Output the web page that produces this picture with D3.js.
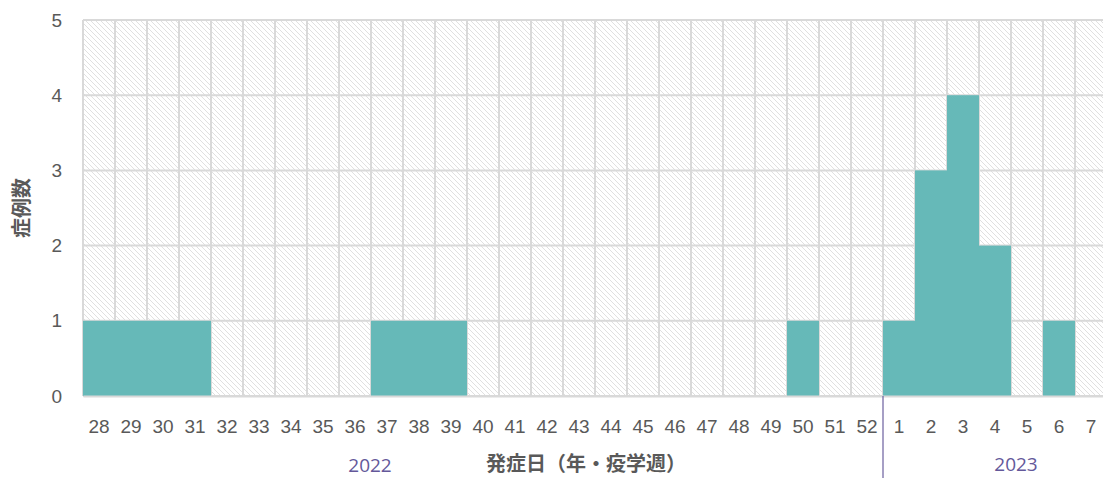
<!DOCTYPE html>
<html>
<head>
<meta charset="utf-8">
<script src="https://cdn.jsdelivr.net/npm/d3@7"></script>
<style>
  body { margin: 0; background: #fff; }
  svg { display: block; font-family: "Open Sans", "Noto Sans CJK JP", sans-serif; }
</style>
</head>
<body>
<div id="chart"></div>
<script>
// weeks of onset, 2022 wk28 .. 2023 wk7
const weeks = ['28','29','30','31','32','33','34','35','36','37','38','39','40','41','42','43','44','45','46','47','48','49','50','51','52','1','2','3','4','5','6','7'];
const years = ['2022','2022','2022','2022','2022','2022','2022','2022','2022','2022','2022','2022','2022','2022','2022','2022','2022','2022','2022','2022','2022','2022','2022','2022','2022','2023','2023','2023','2023','2023','2023','2023'];
const cases = [1,1,1,1,0,0,0,0,0,1,1,1,0,0,0,0,0,0,0,0,0,0,1,0,0,1,3,4,2,0,1,0];
const yTicks = [0,1,2,3,4,5];

const width = 1103, height = 478;
const margin = { top: 20, right: -4, bottom: 82, left: 83 };

const keys = weeks.map((w, i) => years[i] + '-' + w);

const svg = d3.select('#chart')
  .append('svg')
  .attr('width', width)
  .attr('height', height);

const x = d3.scaleBand()
  .domain(keys)
  .range([margin.left, width - margin.right])
  .padding(0);

const y = d3.scaleLinear()
  .domain([0, 5])
  .range([height - margin.bottom, margin.top]);

// hatch background
const defs = svg.append('defs');
defs.append('pattern')
  .attr('id', 'hatch')
  .attr('patternUnits', 'userSpaceOnUse')
  .attr('width', 5)
  .attr('height', 5)
  .call(p => {
    p.append('rect').attr('width', 5).attr('height', 5).attr('fill', '#fff');
    p.append('path')
      .attr('d', 'M-1,-1 L6,6 M-1,4 L1,6 M4,-1 L6,1')
      .attr('stroke', '#e0e0e0')
      .attr('stroke-width', 1);
  });

svg.append('rect')
  .attr('x', margin.left)
  .attr('y', margin.top)
  .attr('width', x.range()[1] - margin.left)
  .attr('height', y(0) - margin.top)
  .attr('fill', 'url(#hatch)');

// grid
const grid = svg.append('g').attr('stroke', '#d9d9d9').attr('stroke-width', 2);
grid.selectAll('line.v')
  .data(keys.concat(['end']))
  .join('line')
  .attr('class', 'v')
  .attr('x1', d => d === 'end' ? x.range()[1] : x(d))
  .attr('x2', d => d === 'end' ? x.range()[1] : x(d))
  .attr('y1', y(5))
  .attr('y2', y(0));
grid.selectAll('line.h')
  .data(yTicks)
  .join('line')
  .attr('class', 'h')
  .attr('x1', margin.left)
  .attr('x2', x.range()[1])
  .attr('y1', d => y(d))
  .attr('y2', d => y(d));

// bars
svg.append('g')
  .selectAll('rect')
  .data(keys.map((k, i) => ({ k, v: cases[i] })).filter(d => d.v > 0))
  .join('rect')
  .attr('x', d => x(d.k))
  .attr('width', x.bandwidth())
  .attr('y', d => y(d.v))
  .attr('height', d => y(0) - y(d.v))
  .attr('fill', '#66b9b8');

// x axis labels
const xAxis = svg.append('g')
  .attr('transform', `translate(0,${y(0)})`)
  .call(d3.axisBottom(x).tickSize(0).tickPadding(24).tickFormat((d, i) => weeks[i]));
xAxis.select('.domain').attr('stroke', '#d9d9d9').attr('stroke-width', 2);
xAxis.selectAll('text').attr('fill', '#595959').style('font-size', '19px');

// y axis labels
const yAxis = svg.append('g')
  .attr('transform', `translate(${margin.left},0)`)
  .call(d3.axisLeft(y).tickValues(yTicks).tickSize(0).tickPadding(21).tickFormat(d3.format('d')));
yAxis.select('.domain').remove();
yAxis.selectAll('text').attr('fill', '#595959').style('font-size', '19px');

// year separator and labels
const sep = x('2023-1');
svg.append('line')
  .attr('x1', sep).attr('x2', sep)
  .attr('y1', y(0)).attr('y2', height)
  .attr('stroke', '#6b5f9e').attr('stroke-width', 1.2);

svg.append('text')
  .attr('x', 370).attr('y', 472)
  .attr('text-anchor', 'middle')
  .attr('fill', '#64589a')
  .style('font-size', '19px')
  .text('2022');
svg.append('text')
  .attr('x', 1016).attr('y', 471)
  .attr('text-anchor', 'middle')
  .attr('fill', '#64589a')
  .style('font-size', '19px')
  .text('2023');

// axis titles
svg.append('text')
  .attr('x', 586).attr('y', 471)
  .attr('text-anchor', 'middle')
  .attr('fill', '#595959')
  .style('font-size', '20px')
  .style('font-weight', 'bold')
  .style('font-family', '"Noto Sans CJK JP", sans-serif')
  .text('発症日（年・疫学週）');

svg.append('text')
  .attr('transform', `translate(29,${(y(0) + y(5)) / 2}) rotate(-90)`)
  .attr('text-anchor', 'middle')
  .attr('fill', '#595959')
  .style('font-size', '20px')
  .style('font-weight', 'bold')
  .style('font-family', '"Noto Sans CJK JP", sans-serif')
  .text('症例数');
</script>
</body>
</html>
